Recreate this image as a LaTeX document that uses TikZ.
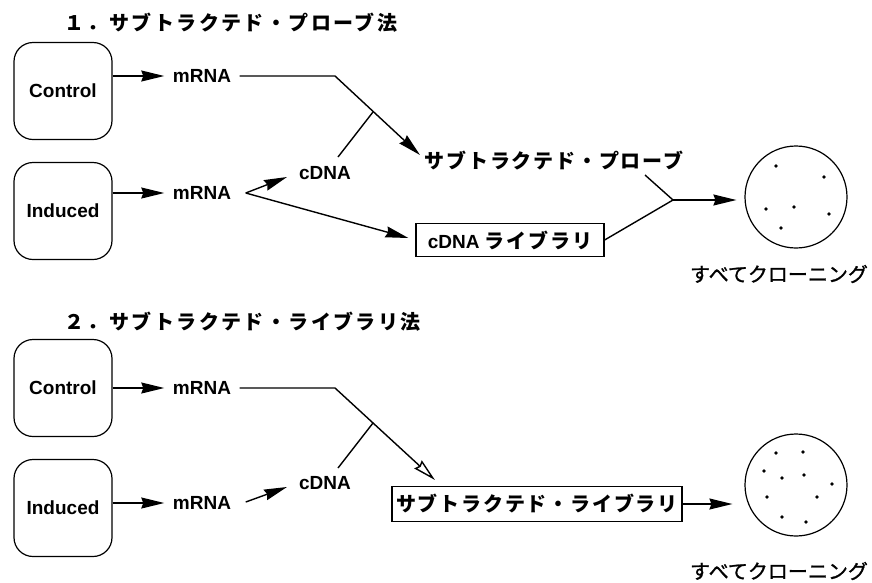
\documentclass[tikz,border=0pt]{standalone}
\usepackage{fontspec}
\setmainfont{Liberation Sans}
\newfontfamily\jpfont[LetterSpace=9]{Noto Sans CJK JP}
\newfontfamily\jpttl[LetterSpace=12]{Noto Sans CJK JP}
\newfontfamily\jpfontplain[FakeBold=1.2]{Noto Sans CJK JP}
\usetikzlibrary{arrows.meta}
\begin{document}
\begin{tikzpicture}[x=1pt,y=-1pt,
  line width=1.4pt,
  arr/.style={-{Stealth[length=23pt,width=11pt,inset=2pt]}},
  oarr/.style={-{Stealth[open,length=23pt,width=11pt,inset=2pt]}},
  cellbox/.style={draw,line width=1.2pt,rounded corners=19pt,minimum width=98pt,minimum height=97pt,font=\fontsize{19}{22}\selectfont\bfseries},
  eng/.style={inner sep=0pt,font=\fontsize{19}{22}\selectfont\bfseries},
  jp/.style={inner sep=0pt,font=\fontsize{20}{22}\selectfont\jpfont\bfseries},
  ttl/.style={inner sep=0pt,font=\fontsize{20}{22}\selectfont\jpttl\bfseries},
  cln/.style={inner sep=0pt,font=\fontsize{20}{22}\selectfont\jpfontplain},
  libbox/.style={draw,line width=1.2pt,inner sep=0pt,font=\fontsize{19}{22}\selectfont\bfseries},
  dish/.style={draw,circle,line width=1.2pt,minimum size=102pt,inner sep=0pt},
  dot/.style={fill,circle,inner sep=0pt,minimum size=3.8pt}
]
\useasboundingbox (0,0) rectangle (872,582);

% ---------- Section 1 ----------
\node[ttl,anchor=west] (t1) at (64,23) {１．サブトラクテド・プローブ法};
\node[cellbox] (c1) at (63,91) {Control};
\node[cellbox] (i1) at (63,211) {Induced};
\node[eng] (m1) at (202,76) {mRNA};
\node[eng] (m2) at (202,193) {mRNA};
\node[eng] (cd1) at (325,173) {cDNA};
\node[jp,anchor=west] (p1) at (424,161) {サブトラクテド・プローブ};
\node[libbox,minimum width=188pt,minimum height=33pt] (lib1) at (510,240) {cDNA {\fontsize{20}{22}\selectfont\jpfont ライブラリ}};
\node[dish] (d1) at (796,197) {};
\node[cln] (cl1) at (779,274) {すべてクローニング};

\coordinate (k1) at (335,76);
\coordinate (j1) at (373,112);
\coordinate (tp1) at (420,155);
\coordinate (j2) at (673,200);
\coordinate (s1) at (645,175);

\draw[arr] (c1.east |- m1) -- ([xshift=-8pt]m1.west);
\draw[arr] (i1.east |- m2) -- ([xshift=-8pt]m2.west);
\draw[arr] ([xshift=8pt]m1.east) -- (k1) -- (tp1);
\draw ([shift={(13,-16)}]cd1.center) -- (j1);
\draw[arr] ([xshift=14pt]m2.east) -- ([shift={(-38,4)}]cd1.center);
\draw[arr] ([xshift=14pt]m2.east) -- ([xshift=-7pt,yshift=2pt]lib1.west);
\draw (lib1.east) -- (j2);
\draw (s1) -- (j2);
\draw[arr] (j2) -- ([xshift=-8pt]d1.west |- j2);

\foreach \p in {(776,166),(824,177),(766,209),(794,207),(829,214),(781,228)}
  \node[dot] at \p {};

% ---------- Section 2 ----------
\node[ttl,anchor=west] (t2) at (64,322) {２．サブトラクテド・ライブラリ法};
\node[cellbox] (c2) at (63,388) {Control};
\node[cellbox] (i2) at (63,508) {Induced};
\node[eng] (m3) at (202,388) {mRNA};
\node[eng] (m4) at (202,503) {mRNA};
\node[eng] (cd2) at (325,483) {cDNA};
\node[libbox,font=\fontsize{20}{22}\selectfont\jpfont\bfseries,minimum width=290pt,minimum height=35pt] (lib2) at (537,504) {サブトラクテド・ライブラリ};
\node[dish] (d2) at (796,485) {};
\node[cln] (cl2) at (779,571) {すべてクローニング};

\coordinate (k2) at (335,388);
\coordinate (j3) at (373,423);
\coordinate (tp2) at (435,480);

\draw[arr] (c2.east |- m3) -- ([xshift=-8pt]m3.west);
\draw[arr] (i2.east |- m4) -- ([xshift=-8pt]m4.west);
\draw[oarr] ([xshift=8pt]m3.east) -- (k2) -- (tp2);
\draw ([shift={(13,-15)}]cd2.center) -- (j3);
\draw[arr] ([xshift=14pt,yshift=1pt]m4.east) -- ([shift={(-38,4)}]cd2.center);
\draw[arr] (lib2.east) -- ([xshift=-12pt]d2.west |- lib2.east);

\foreach \p in {(776,453),(803,452),(764,471),(782,478),(804,475),(832,484),(767,497),(817,497),(782,517),(806,522)}
  \node[dot] at \p {};
\end{tikzpicture}
\end{document}
